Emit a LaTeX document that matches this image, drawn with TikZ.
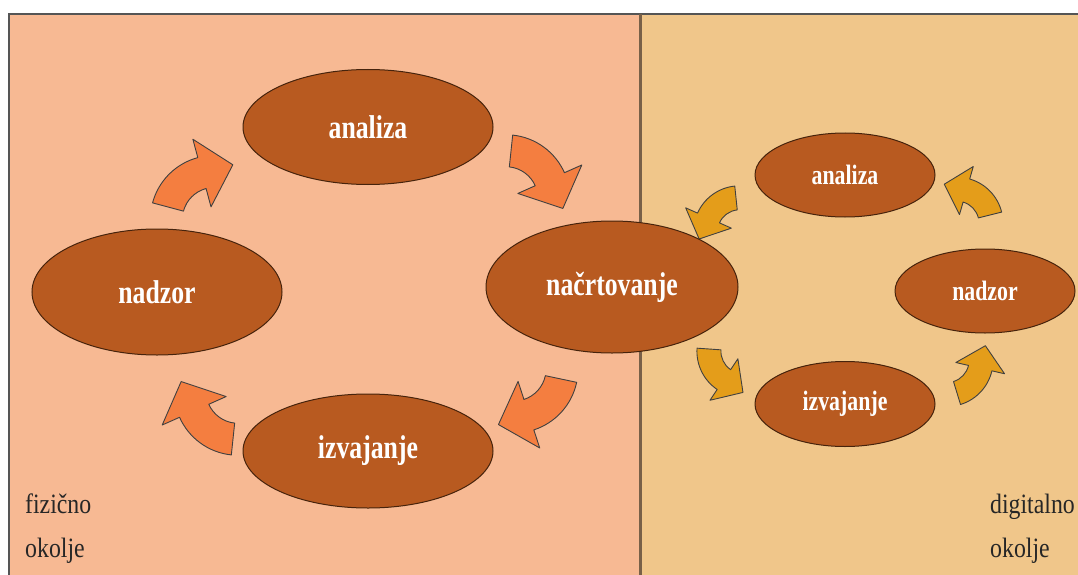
\documentclass[tikz,border=0pt]{standalone}
\usepackage{fontspec}
\setmainfont{Liberation Serif}[FakeStretch=0.85]
\newfontfamily\phasefont{Liberation Serif}[FakeStretch=0.78]
\usetikzlibrary{shapes.geometric,calc}
\definecolor{panelL}{RGB}{247,185,147}
\definecolor{panelR}{RGB}{240,198,138}
\definecolor{ellfill}{RGB}{184,90,32}
\definecolor{ellbord}{RGB}{70,35,12}
\definecolor{arrowL}{RGB}{244,126,64}
\definecolor{arrowR}{RGB}{228,157,26}
\definecolor{frameC}{RGB}{85,85,85}
\definecolor{divC}{RGB}{120,96,72}
\tikzset{
  phaseL/.style={ellipse, draw=ellbord, fill=ellfill, line width=1pt, inner sep=0pt,
    text=white, font=\phasefont\fontsize{33}{38}\selectfont\bfseries},
  phaseR/.style={phaseL, font=\phasefont\fontsize{28}{32}\selectfont\bfseries},
  larrow/.style={draw=black!75, fill=arrowL, line width=0.9pt, line join=round},
  rarrow/.style={draw=black!75, fill=arrowR, line width=0.9pt, line join=round},
  envlabel/.style={anchor=base west, inner sep=0pt, text=black!85, font=\fontsize{28}{32}\selectfont}
}
% #1 style, #2 x, #3 y, #4 rotate, #5 mirror, #6 R, #7 body width, #8 head width, #9 head length
\newcommand\curvedblockarrow[9]{%
  \begin{scope}[shift={(#2,#3)},rotate=#4,xscale=#5]
  \begin{scope}[shift={(#6,0)}]
  \path[#1] (180:{#6+#7/2}) arc[start angle=180,end angle=120,radius={#6+#7/2}]
    -- (120:{#6+#8/2}) -- ($(120:#6)+(30:#9)$) -- (120:{#6-#8/2})
    -- (120:{#6-#7/2}) arc[start angle=120,end angle=180,radius={#6-#7/2}] -- cycle;
  \end{scope}
  \end{scope}}
\begin{document}
\begin{tikzpicture}[x=1pt,y=1pt]
\useasboundingbox (0,0) rectangle (1078,-575);
% panels
\fill[panelL] (9,-14) rectangle (640,-575);
\fill[panelR] (640,-14) rectangle (1078,-575);
\draw[frameC, line width=2pt] (8,-14) -- (1078,-14);
\draw[frameC, line width=1.6pt] (9,-14) -- (9,-575);
\draw[divC, line width=3pt] (640,-14) -- (640,-575);
% arrows, physical cycle
\curvedblockarrow{larrow}{168}{-207}{-15}{1}{48}{32}{70}{32}
\curvedblockarrow{larrow}{511}{-151}{-96}{1}{48}{32}{70}{32}
\curvedblockarrow{larrow}{561}{-379}{168}{1}{48}{32}{70}{32}
\curvedblockarrow{larrow}{233}{-439}{84}{1}{48}{32}{70}{32}
% arrows, digital cycle
\curvedblockarrow{rarrow}{736}{-198}{96}{-1}{34}{24}{50}{23}
\curvedblockarrow{rarrow}{709}{-349}{176}{-1}{34}{24}{50}{23}
\curvedblockarrow{rarrow}{990}{-215}{14}{-1}{34}{24}{50}{23}
\curvedblockarrow{rarrow}{957}{-393}{-73}{-1}{34}{24}{50}{23}
% phases, physical
\node[phaseL, minimum width=250pt, minimum height=115pt] (anaL) at (368,-127) {analiza};
\node[phaseL, minimum width=250pt, minimum height=126pt] (nadL) at (157,-292) {nadzor};
\node[phaseL, minimum width=252pt, minimum height=132pt] (nac) at (612,-287) {načrtovanje};
\node[phaseL, minimum width=250pt, minimum height=114pt] (izvL) at (368,-451) {izvajanje};
% phases, digital
\node[phaseR, minimum width=180pt, minimum height=84pt] (anaR) at (845,-175) {analiza};
\node[phaseR, minimum width=180pt, minimum height=84pt] (nadR) at (985,-291) {nadzor};
\node[phaseR, minimum width=180pt, minimum height=85pt] (izvR) at (845,-404) {izvajanje};
% labels
\node[envlabel] (fiz) at (25,-513) {fizično};
\node[envlabel] (okL) at (25,-557) {okolje};
\node[envlabel] (dig) at (990,-513) {digitalno};
\node[envlabel] (okR) at (990,-557) {okolje};
\end{tikzpicture}
\end{document}
